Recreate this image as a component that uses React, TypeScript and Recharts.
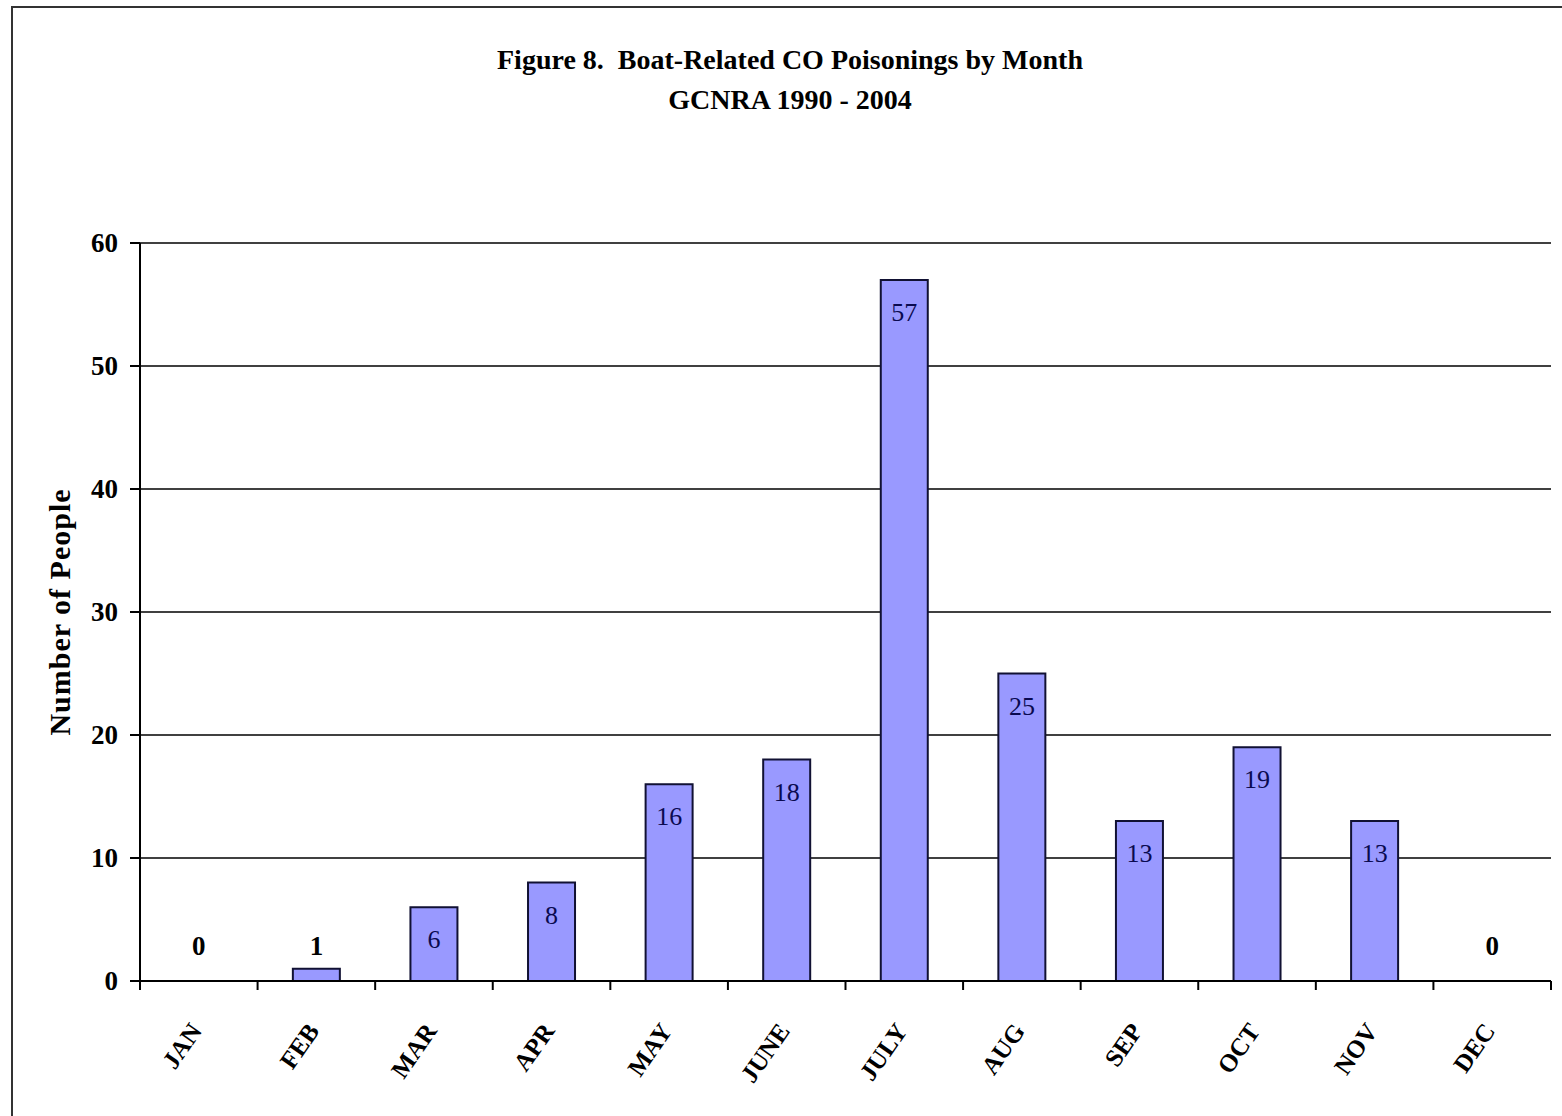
import React from "react";
import { ComposedChart, Bar, Line, XAxis, YAxis, CartesianGrid, LabelList } from "recharts";

const months = ["JAN", "FEB", "MAR", "APR", "MAY", "JUNE", "JULY", "AUG", "SEP", "OCT", "NOV", "DEC"];
const people = [0, 1, 6, 8, 16, 18, 57, 25, 13, 19, 13, 0];
const yTicks = [0, 10, 20, 30, 40, 50, 60];
const titleLine1 = "Figure 8.  Boat-Related CO Poisonings by Month";
const titleLine2 = "GCNRA 1990 - 2004";
const yLabel = "Number of People";

const data = months.map((m, i) => ({ month: m, value: people[i] }));

const W = 1562;
const H = 1116;
const MARGIN = { top: 243, right: 11, left: 60, bottom: 35 };
const Y_W = 80;
const X_H = 100;
const PLOT_W = W - MARGIN.left - MARGIN.right - Y_W;
const BAND = PLOT_W / months.length;
const FONT = "'Liberation Serif', 'Times New Roman', serif";

const XTick = (props: any) => {
  const { x, y, payload, index } = props;
  const left = x - BAND / 2;
  const right = x + BAND / 2;
  const tx = x + 4;
  const ty = y + 50;
  return (
    <g>
      <line x1={left} y1={y} x2={left} y2={y + 9} stroke="#000" strokeWidth={2} />
      {index === months.length - 1 && (
        <line x1={right} y1={y} x2={right} y2={y + 9} stroke="#000" strokeWidth={2} />
      )}
      <text
        x={tx}
        y={ty}
        textAnchor="end"
        transform={`rotate(-55, ${tx}, ${ty})`}
        fontFamily={FONT}
        fontWeight="bold"
        fontSize={25}
        fill="#000"
      >
        {payload.value}
      </text>
    </g>
  );
};

const YTick = (props: any) => {
  const { x, y, payload } = props;
  return (
    <text x={x} y={y} dy={9} textAnchor="end" fontFamily={FONT} fontWeight="bold" fontSize={27} fill="#000">
      {payload.value}
    </text>
  );
};

const PointLabel = (props: any) => {
  const { x, y, value } = props;
  const inside = y + 32;
  const outsideY = 946;
  if (inside > outsideY + 4) {
    return (
      <text x={x} y={outsideY} dy={9} textAnchor="middle" fontFamily={FONT} fontWeight="bold" fontSize={27} fill="#000">
        {value}
      </text>
    );
  }
  return (
    <text x={x} y={inside} dy={9} textAnchor="middle" fontFamily={FONT} fontSize={26} fill="#0a0a50">
      {value}
    </text>
  );
};

export default function App() {
  return (
    <div style={{ position: "absolute", left: 0, top: 0, width: W, height: H, background: "#fff", overflow: "hidden" }}>
      <div
        style={{
          position: "absolute",
          left: 11,
          top: 6,
          width: W + 20,
          height: H + 20,
          border: "2px solid #333",
          boxSizing: "border-box",
        }}
      />
      <div
        style={{
          position: "absolute",
          left: 0,
          top: 40,
          width: 1580,
          textAlign: "center",
          fontFamily: FONT,
          fontWeight: "bold",
          fontSize: 28,
          lineHeight: "40px",
          color: "#000",
          whiteSpace: "pre",
        }}
      >
        <div>{titleLine1}</div>
        <div>{titleLine2}</div>
      </div>
      <div
        style={{
          position: "absolute",
          left: 60,
          top: 612,
          transform: "translate(-50%, -50%) rotate(-90deg)",
          fontFamily: FONT,
          fontWeight: "bold",
          fontSize: 30,
          letterSpacing: 1,
          whiteSpace: "nowrap",
          color: "#000",
        }}
      >
        {yLabel}
      </div>
      <div style={{ position: "absolute", left: 0, top: 0 }}>
        <ComposedChart width={W} height={H} data={data} margin={MARGIN} barCategoryGap="30%">
          <CartesianGrid vertical={false} stroke="#000" strokeWidth={1.5} yAxisId="left" />
          <XAxis
            dataKey="month"
            height={X_H}
            tickSize={0}
            tickMargin={0}
            tickLine={false}
            axisLine={{ stroke: "#000", strokeWidth: 2 }}
            tick={<XTick />}
            interval={0}
          />
          <YAxis
            yAxisId="left"
            width={Y_W}
            domain={[0, 60]}
            ticks={yTicks}
            tickSize={10}
            tickMargin={12}
            tickLine={{ stroke: "#000", strokeWidth: 2 }}
            axisLine={{ stroke: "#000", strokeWidth: 2 }}
            tick={<YTick />}
            interval={0}
          />
          <YAxis
            yAxisId="right"
            orientation="right"
            width={0}
            domain={[0, 60]}
            ticks={yTicks}
            tick={false}
            tickLine={false}
            axisLine={{ stroke: "#000", strokeWidth: 2 }}
          />
          <Bar yAxisId="left" dataKey="value" fill="#9999FF" stroke="#111133" strokeWidth={2} isAnimationActive={false} />
          <Line
            yAxisId="left"
            dataKey="value"
            stroke="none"
            dot={false}
            activeDot={false}
            legendType="none"
            isAnimationActive={false}
          >
            <LabelList dataKey="value" content={<PointLabel />} />
          </Line>
        </ComposedChart>
      </div>
    </div>
  );
}
